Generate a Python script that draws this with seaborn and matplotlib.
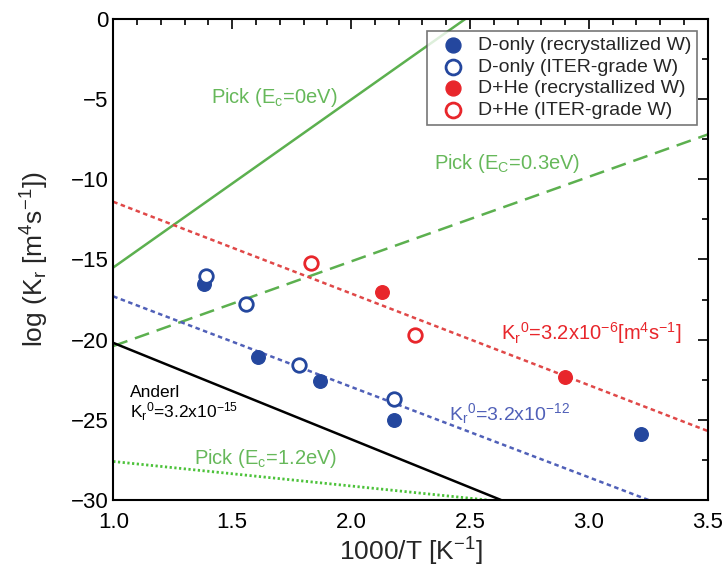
import matplotlib
matplotlib.use("Agg")
import matplotlib.pyplot as plt
import seaborn as sns
from matplotlib.ticker import MultipleLocator, FormatStrFormatter

# Measured recombination coefficients: x = 1000/T [1/K], y = log10(Kr)
d_recr_x = [1.38, 1.61, 1.87, 2.18, 3.22]
d_recr_y = [-16.5, -21.1, -22.6, -25.0, -25.9]
d_iter_x = [1.39, 1.56, 1.78, 2.18]
d_iter_y = [-16.0, -17.8, -21.6, -23.7]
dhe_recr_x = [2.13, 2.90]
dhe_recr_y = [-17.0, -22.3]
dhe_iter_x = [1.83, 2.27]
dhe_iter_y = [-15.2, -19.7]

# Model / fit lines given by their end points
pick0_x, pick0_y = [1.0, 2.48], [-15.5, 0.0]
pick03_x, pick03_y = [1.0, 3.5], [-20.4, -7.2]
pick12_x, pick12_y = [1.0, 2.57], [-27.6, -30.0]
anderl_x, anderl_y = [1.0, 2.63], [-20.2, -30.0]
fit_d_x, fit_d_y = [1.0, 3.25], [-17.3, -30.0]
fit_dhe_x, fit_dhe_y = [1.0, 3.5], [-11.4, -25.7]

legend_labels = ["D-only (recrystallized W)", "D-only (ITER-grade W)",
                 "D+He (recrystallized W)", "D+He (ITER-grade W)"]

sns.set_style("white")
plt.rcParams["font.family"] = ["Liberation Sans", "DejaVu Sans"]
plt.rcParams["mathtext.default"] = "regular"

GREEN = "#5cb04f"
GREEN_TXT = "#66b85a"
RED = "#e8262b"
RED_LINE = "#e04848"
BLUE = "#24479e"
BLUE_LINE = "#5060b8"

fig = plt.figure(figsize=(7.26, 5.76), dpi=100)
ax = fig.add_axes([0.156, 0.132, 0.819, 0.835])

# lines
sns.lineplot(x=pick0_x, y=pick0_y, ax=ax, color=GREEN, lw=1.8, sort=False)
sns.lineplot(x=pick03_x, y=pick03_y, ax=ax, color=GREEN, lw=1.8, sort=False,
             linestyle=(0, (6, 3.2)))
sns.lineplot(x=pick12_x, y=pick12_y, ax=ax, color="#4cc23a", lw=2.0, sort=False,
             linestyle=(0, (0.8, 0.9)))
sns.lineplot(x=anderl_x, y=anderl_y, ax=ax, color="black", lw=1.8, sort=False)
sns.lineplot(x=fit_d_x, y=fit_d_y, ax=ax, color=BLUE_LINE, lw=1.8, sort=False,
             linestyle=(0, (1.8, 1.4)))
sns.lineplot(x=fit_dhe_x, y=fit_dhe_y, ax=ax, color=RED_LINE, lw=1.8, sort=False,
             linestyle=(0, (1.8, 1.4)))

# data points
ms = 95
sns.scatterplot(x=d_recr_x, y=d_recr_y, ax=ax, s=ms, color=BLUE,
                edgecolor=BLUE, linewidth=1.0, label=legend_labels[0], zorder=5)
sns.scatterplot(x=d_iter_x, y=d_iter_y, ax=ax, s=ms, color="white",
                edgecolor=BLUE, linewidth=2.0, label=legend_labels[1], zorder=5)
sns.scatterplot(x=dhe_recr_x, y=dhe_recr_y, ax=ax, s=ms, color=RED,
                edgecolor=RED, linewidth=1.0, label=legend_labels[2], zorder=5)
sns.scatterplot(x=dhe_iter_x, y=dhe_iter_y, ax=ax, s=ms, color="white",
                edgecolor=RED, linewidth=2.0, label=legend_labels[3], zorder=5)

# annotations
ax.text(1.41, -4.9, "Pick (E$_c$=0eV)", color=GREEN_TXT, fontsize=14.5, va="center")
ax.text(2.35, -9.0, "Pick (E$_C$=0.3eV)", color=GREEN_TXT, fontsize=14.5, va="center")
ax.text(1.34, -27.4, "Pick (E$_c$=1.2eV)", color=GREEN_TXT, fontsize=14.5, va="center")
ax.text(1.07, -23.3, "Anderl", color="black", fontsize=12.5, va="center")
ax.text(1.07, -24.5, "K$_r$$^0$=3.2x10$^{-15}$", color="black", fontsize=12.5, va="center")
ax.text(2.41, -24.6, "K$_r$$^0$=3.2x10$^{-12}$", color=BLUE_LINE, fontsize=14, va="center")
ax.text(2.63, -19.6, "K$_r$$^0$=3.2x10$^{-6}$[m$^4$s$^{-1}$]", color=RED,
        fontsize=14.5, va="center")

ax.set_xlim(1.0, 3.5)
ax.set_ylim(-30, 0)
ax.xaxis.set_major_locator(MultipleLocator(0.5))
ax.xaxis.set_minor_locator(MultipleLocator(0.1))
ax.yaxis.set_major_locator(MultipleLocator(5))
ax.yaxis.set_minor_locator(MultipleLocator(2.5))
ax.xaxis.set_major_formatter(FormatStrFormatter("%.1f"))
ax.tick_params(which="both", direction="in", top=True, right=True,
               labelsize=16, width=1.2, colors="black")
ax.tick_params(which="major", length=7)
ax.tick_params(which="minor", length=4)
ax.tick_params(axis="x", which="major", pad=9)
for sp in ax.spines.values():
    sp.set_color("black")
    sp.set_linewidth(1.5)

ax.set_xlabel("1000/T [K$^{-1}$]", fontsize=19, labelpad=2)
ax.set_ylabel("log (K$_r$ [m$^4$s$^{-1}$])", fontsize=19, labelpad=14)

leg = ax.legend(loc="upper right", bbox_to_anchor=(0.982, 0.975), frameon=True,
                fancybox=False, edgecolor="#555555", fontsize=14,
                labelspacing=0.2, handletextpad=0.3, borderpad=0.3,
                handlelength=2.0, borderaxespad=0, markerscale=1.1)
leg.get_frame().set_linewidth(1.2)

fig.savefig("out.png", dpi=100)
